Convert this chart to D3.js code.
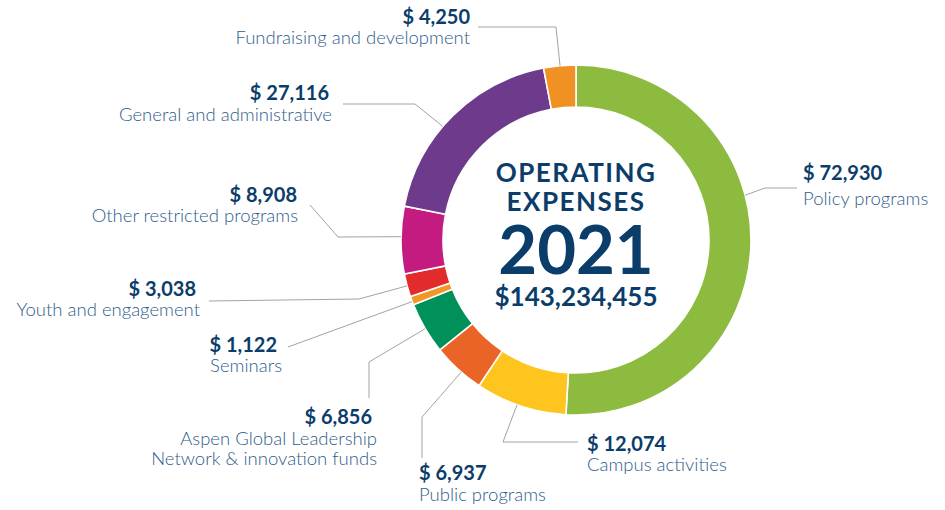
<!DOCTYPE html>
<html>
<head>
<meta charset="utf-8">
<script src="https://cdn.jsdelivr.net/npm/d3@7"></script>
<style>
  html, body { margin: 0; padding: 0; background: #ffffff; }
  svg { display: block; }
</style>
</head>
<body>
<svg id="chart" width="945" height="510"></svg>
<script>
// ---- DATA ----
const categories = [
  "Policy programs",
  "Campus activities",
  "Public programs",
  "Aspen Global Leadership Network & innovation funds",
  "Seminars",
  "Youth and engagement",
  "Other restricted programs",
  "General and administrative",
  "Fundraising and development"
];
const values = [72930, 12074, 6937, 6856, 1122, 3038, 8908, 27116, 4250];
const valueLabels = ["$ 72,930", "$ 12,074", "$ 6,937", "$ 6,856", "$ 1,122", "$ 3,038", "$ 8,908", "$ 27,116", "$ 4,250"];
const nameLines = [
  ["Policy programs"],
  ["Campus activities"],
  ["Public programs"],
  ["Aspen Global Leadership", "Network & innovation funds"],
  ["Seminars"],
  ["Youth and engagement"],
  ["Other restricted programs"],
  ["General and administrative"],
  ["Fundraising and development"]
];
const sliceColors = ["#8dbb3f", "#fdc51d", "#e96426", "#00905a", "#f39625", "#e22b2b", "#c41b80", "#6e3a8c", "#f29123"];
const centerTitle = ["OPERATING", "EXPENSES"];
const centerYear = "2021";
const centerTotal = "$143,234,455";

// ---- LAYOUT ----
const W = 945, H = 510;
const cx = 576, cy = 240, rOuter = 175, rInner = 133;
const navy = "#0b3d6b", nameColor = "#2f5d8a", leaderColor = "#a3a3a3";

// label layout: anchor, value x, name x, value baseline, first name baseline, leader points, fraction within slice for attachment
const labelLayout = [
  {anchor: "start", vx: 803, nx: 803, vy: 180, ny: 205, pts: [[797,188],[765,188]], t: 0.41},
  {anchor: "start", vx: 587, nx: 587, vy: 451, ny: 471, pts: [[578,442],[503,442]], t: 0.54},
  {anchor: "start", vx: 419, nx: 419, vy: 480, ny: 501, pts: [[422,458],[422,417]], t: 0.42},
  {anchor: "end",   vx: 372, nx: 377, vy: 424, ny: 445, pts: [[369,398],[369,362]], t: 0.49},
  {anchor: "end",   vx: 277, nx: 282, vy: 352, ny: 372, pts: [[288,347]], t: 0.38},
  {anchor: "end",   vx: 196, nx: 200, vy: 296, ny: 316, pts: [[209,301],[359,299]], t: 0.48},
  {anchor: "end",   vx: 297, nx: 298, vy: 202, ny: 222, pts: [[310,205],[338,237]], t: 0.55},
  {anchor: "end",   vx: 329, nx: 332, vy: 100, ny: 121, pts: [[343,104],[415,104]], t: 0.43},
  {anchor: "end",   vx: 470, nx: 470, vy: 24,  ny: 44,  pts: [[478,27],[556,27]], t: 0.51}
];

const svg = d3.select("#chart");
const data = categories.map((c, i) => ({name: c, value: values[i], i}));

const pie = d3.pie().value(d => d.value).sort(null).startAngle(0).endAngle(2 * Math.PI);
const arcs = pie(data);
const arc = d3.arc().innerRadius(rInner).outerRadius(rOuter);
const color = d3.scaleOrdinal().domain(categories).range(sliceColors);

const g = svg.append("g").attr("transform", `translate(${cx},${cy})`);
g.selectAll("path.slice")
  .data(arcs)
  .join("path")
  .attr("class", "slice")
  .attr("d", arc)
  .attr("fill", d => color(d.data.name))
  .attr("stroke", "#ffffff")
  .attr("stroke-width", 1.6)
  .attr("stroke-linejoin", "miter");

// leader lines
const line = d3.line();
arcs.forEach((a, i) => {
  const L = labelLayout[i];
  const ang = a.startAngle + L.t * (a.endAngle - a.startAngle);
  const px = cx + rOuter * Math.sin(ang);
  const py = cy - rOuter * Math.cos(ang);
  const pts = L.pts.concat([[px, py]]);
  svg.append("path")
    .attr("d", line(pts))
    .attr("fill", "none")
    .attr("stroke", leaderColor)
    .attr("stroke-width", 1);
});

// labels
arcs.forEach((a, i) => {
  const L = labelLayout[i];
  svg.append("text")
    .attr("x", L.vx).attr("y", L.vy)
    .attr("text-anchor", L.anchor)
    .attr("font-family", "Lato, 'Open Sans', sans-serif")
    .attr("font-weight", 700)
    .attr("font-size", 20)
    .attr("fill", navy)
    .text(valueLabels[i]);
  nameLines[i].forEach((ln, k) => {
    svg.append("text")
      .attr("x", L.nx).attr("y", L.ny + k * 20)
      .attr("text-anchor", L.anchor)
      .attr("font-family", "Lato, 'Open Sans', sans-serif")
      .attr("font-weight", 300)
      .attr("font-size", 18.5)
      .attr("fill", nameColor)
      .text(ln);
  });
});

// center text
const center = svg.append("g").attr("font-family", "Lato, 'Open Sans', sans-serif").attr("fill", navy).attr("text-anchor", "middle");
center.selectAll("text.title")
  .data(centerTitle)
  .join("text")
  .attr("class", "title")
  .attr("x", cx)
  .attr("y", (d, k) => 182 + k * 29)
  .attr("font-weight", 700)
  .attr("font-size", 26)
  .attr("letter-spacing", 1.5)
  .text(d => d);
center.append("text")
  .attr("x", cx).attr("y", 274)
  .attr("font-weight", 700)
  .attr("font-size", 67)
  .text(centerYear);
center.append("text")
  .attr("x", cx).attr("y", 306)
  .attr("font-weight", 700)
  .attr("font-size", 26)
  .text(centerTotal);
</script>
</body>
</html>
